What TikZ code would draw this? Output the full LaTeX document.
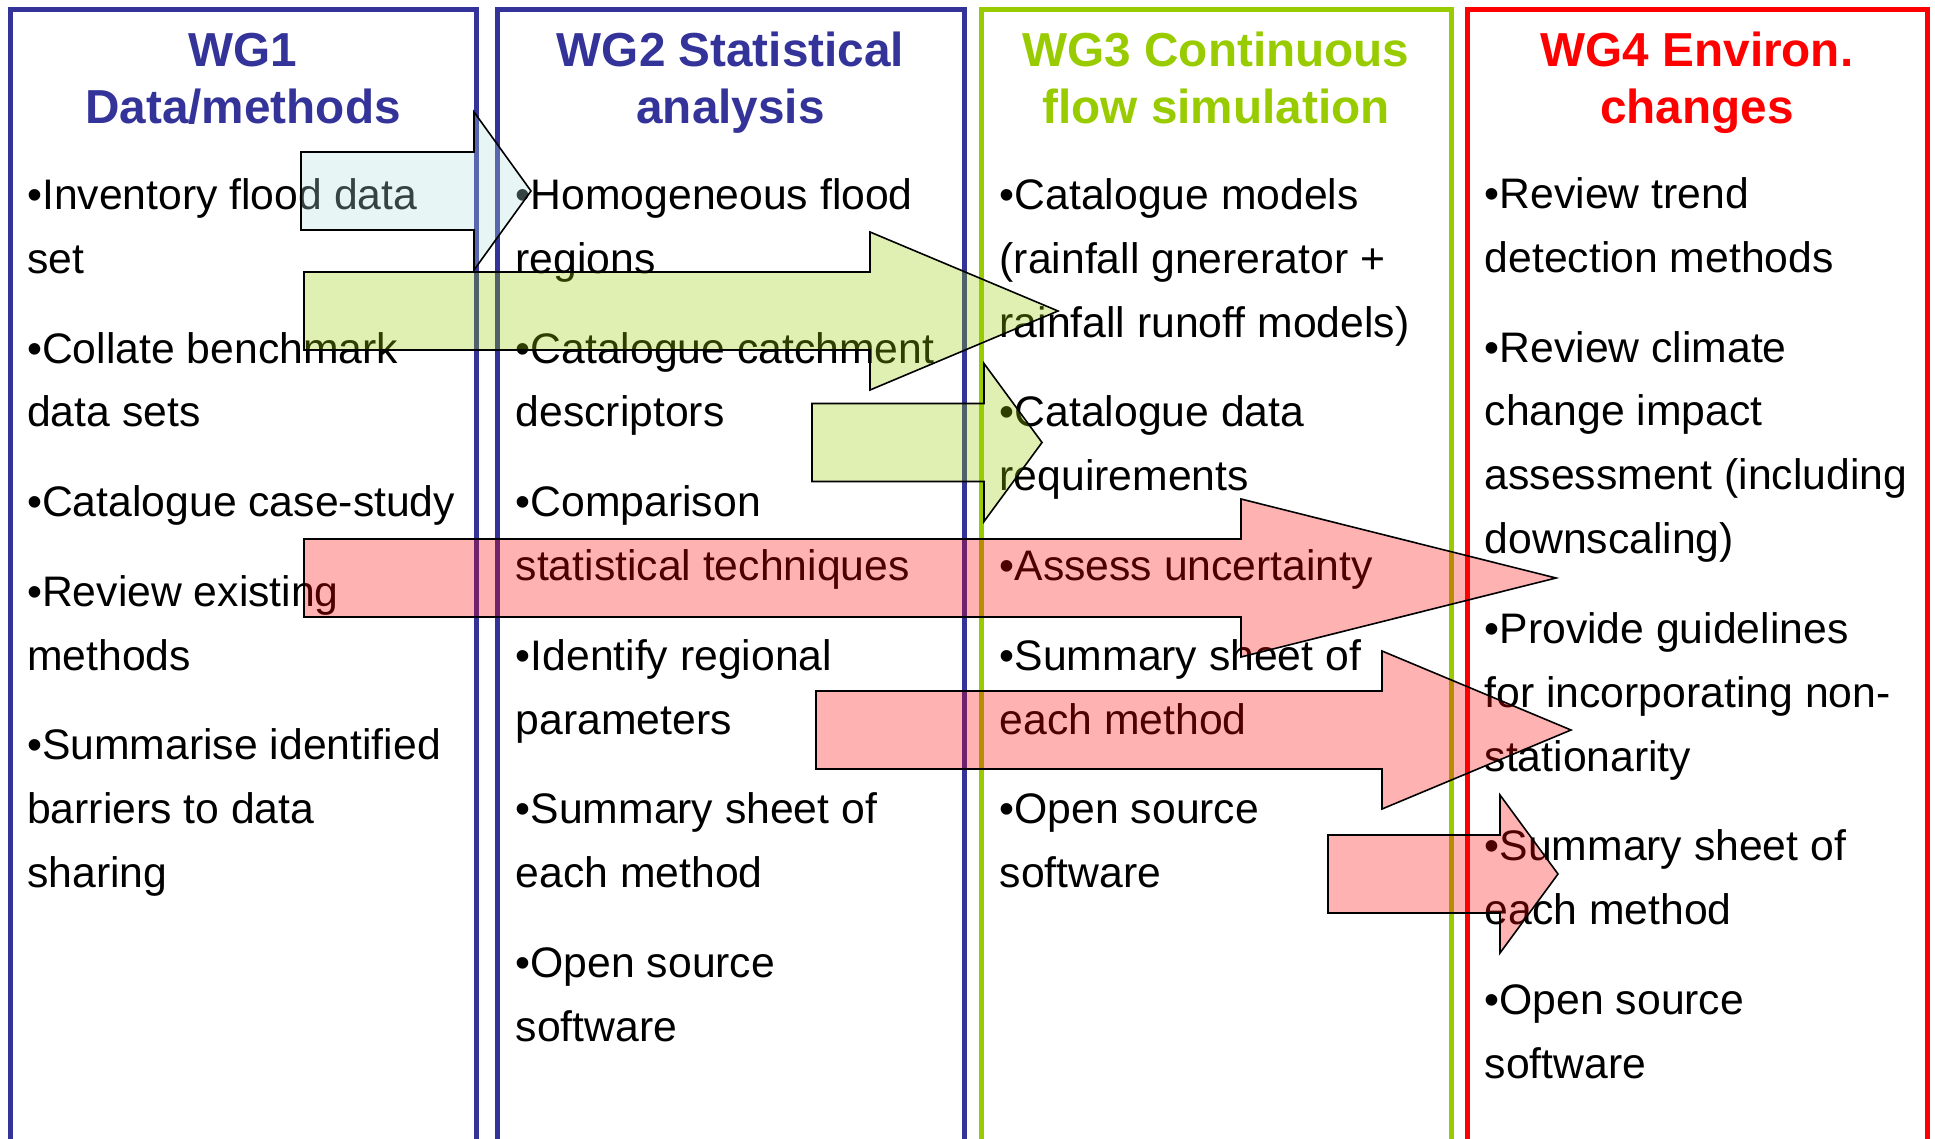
\documentclass[tikz,border=0pt]{standalone}
\usepackage{fontspec}
\setmainfont{Liberation Sans}

\definecolor{wgblue}{HTML}{333399}
\definecolor{wggreen}{HTML}{99CC00}
\definecolor{wgred}{HTML}{FF0000}
\definecolor{arrowcyan}{RGB}{179,224,224}

% gap between two bullet items
\newcommand{\wgskip}{\\[25.8pt]}

% block arrow: colour, tail x, centre y, head base x, tip x
\newcommand{\flowarrow}[5]{%
  \filldraw[arrowline, fill=#1]
    (#2,#3-39) -- (#4,#3-39) -- (#4,#3-79) -- (#5,#3)
    -- (#4,#3+79) -- (#4,#3+39) -- (#2,#3+39) -- cycle;}

\begin{document}
\begin{tikzpicture}[x=1pt,y=-1pt,
  frame/.style={line width=5pt, line join=miter},
  title/.style={anchor=base, inner sep=0pt,
    font=\bfseries\fontsize{47.7pt}{57.5pt}\selectfont},
  body/.style={anchor=base west, inner sep=0pt,
    font=\fontsize{42.7pt}{63.9pt}\selectfont},
  arrowline/.style={draw=black, line width=1.6pt, fill opacity=0.3, line join=miter}]

\useasboundingbox (0,0) rectangle (1935,1139);
\clip (0,0) rectangle (1935,1139);
\fill[white] (0,0) rectangle (1935,1139);

% column frames (open at the bottom)
\draw[frame, wgblue]  (10,1160)   -- (10,10)   -- (476.5,10) -- (476.5,1160);
\draw[frame, wgblue]  (497,1160)  -- (497,10)  -- (964.5,10) -- (964.5,1160);
\draw[frame, wggreen] (981,1160)  -- (981,10)  -- (1451,10)  -- (1451,1160);
\draw[frame, wgred]   (1467,1160) -- (1467,10) -- (1927,10)  -- (1927,1160);

% column titles
\node[title, text=wgblue]  (t1) at (243,66.5)  {\parbox[t]{440pt}{\centering WG1\\Data/methods}};
\node[title, text=wgblue]  (t2) at (730.5,66.5) {\parbox[t]{440pt}{\centering WG2 Statistical\\analysis}};
\node[title, text=wggreen] (t3) at (1216,66.5) {\parbox[t]{440pt}{\centering WG3 Continuous\\flow simulation}};
\node[title, text=wgred]   (t4) at (1697,66.5) {\parbox[t]{440pt}{\centering WG4 Environ.\\changes}};

% column contents
\node[body] (b1) at (27,209.5) {\parbox[t]{500pt}{\raggedright
  •Inventory flood data\\set\wgskip
  •Collate benchmark\\data sets\wgskip
  •Catalogue case-study\wgskip
  •Review existing\\methods\wgskip
  •Summarise identified\\barriers to data\\sharing}};

\node[body] (b2) at (515.5,209.5) {\parbox[t]{500pt}{\raggedright
  •Homogeneous flood\\regions\wgskip
  •Catalogue catchment\\descriptors\wgskip
  •Comparison\\statistical techniques\wgskip
  •Identify regional\\parameters\wgskip
  •Summary sheet of\\each method\wgskip
  •Open source\\software}};

\node[body] (b3) at (999.5,209.5) {\parbox[t]{500pt}{\raggedright
  •Catalogue models\\(rainfall gnererator +\\rainfall runoff models)\wgskip
  •Catalogue data\\requirements\wgskip
  •Assess uncertainty\wgskip
  •Summary sheet of\\each method\wgskip
  •Open source\\software}};

\node[body] (b4) at (1484.5,208.5) {\parbox[t]{500pt}{\raggedright
  •Review trend\\detection methods\wgskip
  •Review climate\\change impact\\assessment (including\\downscaling)\wgskip
  •Provide guidelines\\for incorporating non-\\stationarity\wgskip
  •Summary sheet of\\each method\wgskip
  •Open source\\software}};

% translucent block arrows laid over the columns
\flowarrow{arrowcyan}{301}{191}{474}{531}
\flowarrow{wggreen}{304}{311}{870}{1058}
\flowarrow{wggreen}{812}{442.5}{984}{1042}
\flowarrow{wgred}{304}{578}{1241}{1556}
\flowarrow{wgred}{816}{730}{1382}{1571}
\flowarrow{wgred}{1328}{874}{1500}{1558}

\end{tikzpicture}
\end{document}
